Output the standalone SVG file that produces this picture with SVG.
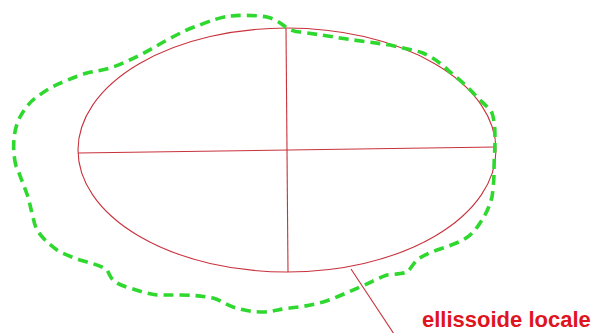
<svg xmlns="http://www.w3.org/2000/svg" width="592" height="333" viewBox="0 0 592 333">
<style>
.red{fill:none;stroke:#c8323c;stroke-width:1.1}
.green{fill:none;stroke:#2fd82f;stroke-width:3.6;stroke-dasharray:10 6;stroke-linecap:butt;stroke-linejoin:round}
.label{font-family:"Liberation Sans",Arial,sans-serif;font-weight:bold;font-size:22px;fill:#e01420}
</style>
<rect width="592" height="333" fill="#ffffff"/>
<g id="ellipse">
<ellipse class="red" cx="287" cy="150" rx="209" ry="122"/>
</g>
<g id="axes">
<line class="red" x1="78" y1="153" x2="496" y2="147"/>
<line class="red" x1="286" y1="28" x2="288" y2="272"/>
</g>
<g id="geoid">
<path class="green" d="M16,166 C12,150 13,130 20,117 C26,106 32,100 37,97 C46,90 55,85 63,82 C72,78 80,75 87,73 C96,71 104,70 110,68 C122,64 132,59 140,55 C150,50 158,45 167,40 C180,33 190,28 200,25 C212,20 222,17 230,16 C242,15 256,15 267,17 C275,19 279,22 283,25 C288,29 294,32 300,32 C315,34 328,36 340,38 C360,41 376,43 390,45 C403,48 414,50 423,53 C434,58 443,65 450,72 C460,80 470,89 477,97 C484,104 489,108 492,113 C495,122 495,131 495,140 C495,150 494,160 494,170 C494,182 493,190 492,197 C489,208 485,216 480,223 C475,231 470,236 463,240 C455,244 446,247 437,250 C429,253 422,256 417,260 C412,265 410,270 407,272 C402,274 395,274 387,275 C378,278 370,283 360,287 C348,292 336,298 323,302 C312,305 301,307 290,308 C280,309 272,312 263,312 C252,312 242,310 233,307 C225,304 220,300 213,298 C202,296 192,295 180,295 C172,295 165,295 157,295 C148,294 139,291 130,288 C123,286 117,284 113,280 C110,277 109,273 107,270 C100,265 90,263 80,260 C72,257 63,254 57,250 C49,244 42,238 37,230 C35,226 34,222 33,217 C31,210 30,204 28,197 C25,188 21,179 18,170 Z"/>
</g>
<g id="connectors">
<line class="red" x1="351" y1="269" x2="394" y2="334"/>
</g>
<g id="label">
<text class="label" x="422" y="327">ellissoide locale</text>
</g>
</svg>
